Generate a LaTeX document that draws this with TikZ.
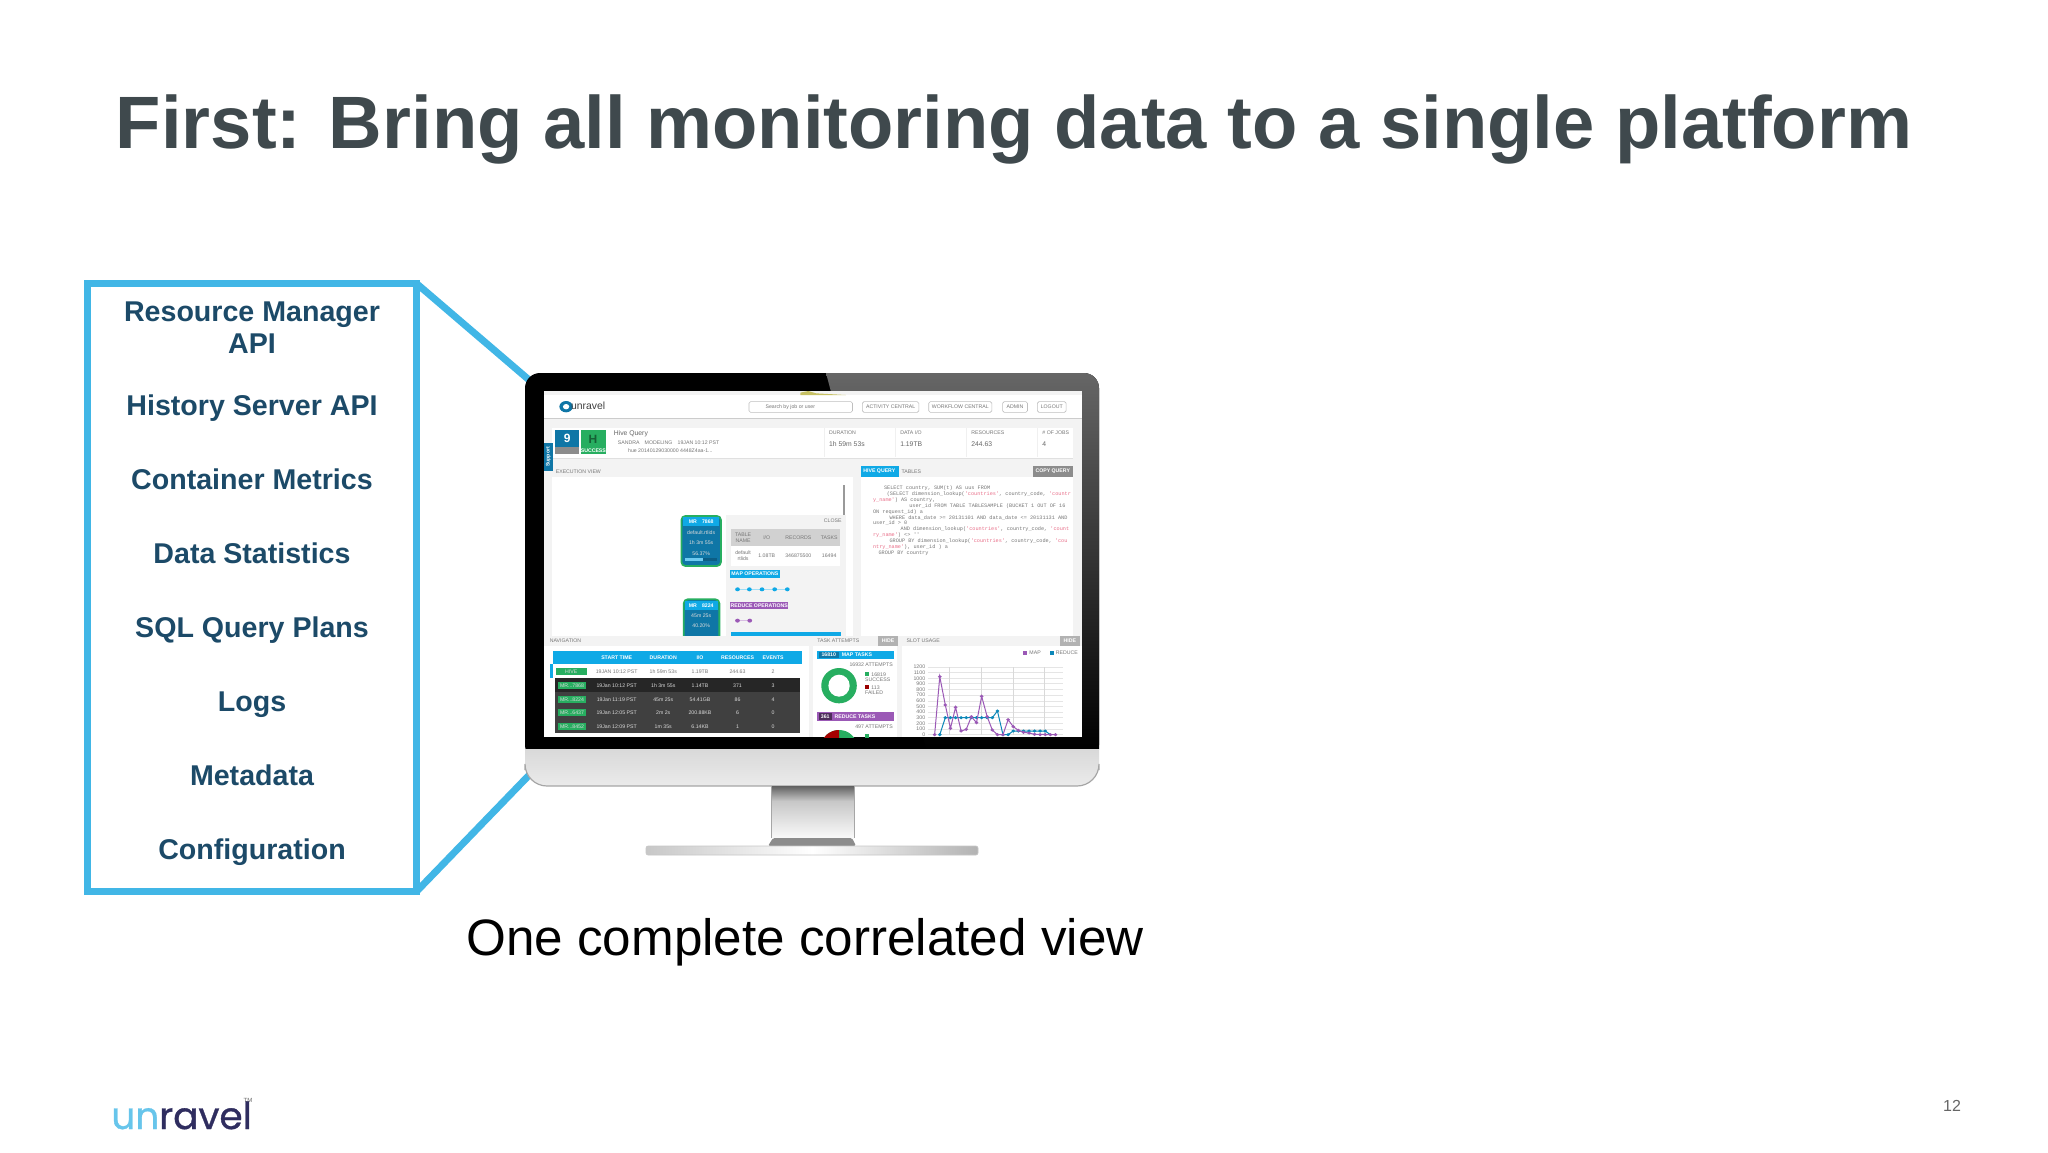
\documentclass[tikz,border=0pt]{standalone}
\usepackage{fontspec}
\setmainfont{Liberation Sans}
\setmonofont{Liberation Mono}
\newfontfamily\logofont[FakeBold=0.9]{Poppins}
\definecolor{calloutblue}{HTML}{41B6E6}
\definecolor{titlegray}{HTML}{3F494D}
\definecolor{paneltext}{HTML}{1C4A68}
\definecolor{logonavy}{HTML}{2F2D5F}
\definecolor{scrblue}{HTML}{0FA9E6}
\definecolor{scrdeep}{HTML}{0F76A6}
\definecolor{scrgreen}{HTML}{27AE60}
\definecolor{scrpurple}{HTML}{9B59B6}
\definecolor{scrgray}{HTML}{F3F3F3}
\definecolor{scrtext}{HTML}{777777}
\definecolor{qred}{HTML}{E9708A}
\tikzset{
  panellabel/.style={font=\fontsize{14.3}{15}\selectfont\bfseries,text=paneltext,inner sep=0},
  tiny/.style={font=\fontsize{2.6}{3}\selectfont,text=scrtext,inner sep=0},
  tinyw/.style={font=\fontsize{2.6}{3}\selectfont\bfseries,text=white,inner sep=0},
  rowtxt/.style={font=\fontsize{2.6}{3}\selectfont,text=white!85!black,inner sep=0},
  headbtn/.style={draw=black!25,fill=white,rounded corners=0.8pt,line width=0.3pt},
  codeline/.style={font=\fontsize{2.6}{3}\ttfamily\selectfont,text=scrtext,inner sep=0,anchor=west},
}
\newcommand{\qs}[1]{\textcolor{qred}{#1}}
\begin{document}
\begin{tikzpicture}[x=0.5pt,y=-0.5pt]
  \fill[white] (0,0) rectangle (2048,1152);
  \useasboundingbox (0,0) rectangle (2048,1152);
  %% Title
  \node[font=\fontsize{37.1}{40}\selectfont\bfseries,text=titlegray,inner sep=0] (title) at (1014,129.5) {First: Bring all monitoring data to a single platform};
  %% Panel
  \node[draw=calloutblue,line width=3.5pt,outer sep=0,minimum width=164.5pt,minimum height=304pt] (panel) at (252,587.5) {};
  \node[panellabel,align=center] (lab0) at (252,328) {Resource Manager\\[1pt]API};
  \foreach \y/\t [count=\i] in {415/History Server API,489/Container Metrics,563/Data Statistics,637/SQL Query Plans,711/Logs,785/Metadata,859/Configuration}
    \node[panellabel,anchor=base] (lab\i) at (252,\y) {\t};
  %% Callout
  \coordinate (montop) at (535,385);
  \coordinate (monbot) at (535,769);
  \draw[calloutblue,line width=3.5pt] (panel.north east) -- (montop);
  \draw[calloutblue,line width=3.5pt] (panel.south east) -- (monbot);
  %% Monitor
  \fill[black,rounded corners=7.5pt] (525,760) -- (525,373) -- (1099,373) -- (1099,760) -- cycle;
  \shade[top color=black!60,bottom color=black] (826,373) [rounded corners=7.5pt] -- (1099,373) [sharp corners] -- (1099,749) -- (926,749) -- cycle;
  \shade[top color=black!15,bottom color=black!8] (525,749) [rounded corners=11pt] -- (525,786) -- (1099,786) [sharp corners] -- (1099,749) -- cycle;
  \draw[black!35,line width=0.6pt] (525,770) [rounded corners=11pt] -- (525,786) -- (1099,786) [sharp corners] -- (1099,770);
  \shade[top color=black!62,bottom color=black!22] (771,786) rectangle (854,801);
  \shade[top color=black!22,bottom color=black!2] (771,801) rectangle (854,838);
  \draw[black!35,line width=0.3pt] (771,786) -- (771,838) (854,786) -- (854,838);
  \fill[black!45,rounded corners=0.8pt] (773,838) -- (852,838) -- (856,846) -- (768,846) -- cycle;
  \shade[left color=black!22,right color=black!30,middle color=white,rounded corners=1pt] (646,846) rectangle (978,855);
  \draw[black!22,line width=0.3pt,rounded corners=1pt] (646,846) rectangle (978,855);
  %% Screen
  \fill[scrgray] (544,391) rectangle (1082,737);
  \begin{scope}
    \clip (544,391) rectangle (1082,737);
    \begin{scope}[shift={(510,360)},xscale=0.395,yscale=0.3333]
      %% Header
      \fill[white] (86,105) rectangle (1447,175);
      \fill[black!20] (86,174) rectangle (1447,177);
      \fill[olive!50] (735,98) -- (755,93) -- (775,100) -- (850,105) -- (735,105) -- cycle;
      \fill[scrdeep] (142,140) circle (17);
      \fill[white] (142,140) circle (8);
      \node[font=\fontsize{5.2}{6}\selectfont,text=black!75,inner sep=0] (scrlogo) at (198,138) {unravel};
      \draw[headbtn] (605,125) rectangle (867,157);
      \node[tiny,anchor=west] (srch) at (646,140) {Search by job or user};
      \foreach \a/\b/\t [count=\i] in {892/1035/ACTIVITY CENTRAL,1060/1220/WORKFLOW CENTRAL,1247/1310/ADMIN,1335/1408/LOGOUT}{
        \draw[headbtn] (\a,125) rectangle (\b,157);
        \node[tiny] (btn\i) at ({(\a+\b)/2},141) {\t};
      }
      %% Summary
      \fill[white] (106,203) rectangle (1424,293);
      \fill[black!12] (106,293) rectangle (1424,297);
      \fill[scrdeep] (115,210) rectangle (175,283);
      \fill[black!45] (115,262) rectangle (175,283);
      \fill[scrgreen] (180,210) rectangle (242,283);
      \node[font=\fontsize{6}{6}\selectfont\bfseries,text=white] (sumn) at (145,236) {9};
      \node[font=\fontsize{6}{6}\selectfont\bfseries,text=black!45!scrgreen] (sumh) at (210,238) {H};
      \node[tinyw] (sums) at (211,271) {SUCCESS};
      \node[font=\fontsize{3.4}{4}\selectfont,text=black!60,anchor=west,inner sep=0] (qname) at (262,221) {Hive Query};
      \node[tiny,anchor=west] (quser) at (272,248) {SANDRA\quad MODELING\quad 19JAN 10:12 PST};
      \node[tiny,anchor=west] (qhue) at (298,273) {hue 20140129030000 4448Z4aa-1...};
      \foreach \x/\a/\b [count=\i] in {807/DURATION/1h 59m 53s,987/{DATA I/O}/1.19TB,1167/RESOURCES/244.63,1347/\# OF JOBS/4}{
        \node[tiny,anchor=west] (sumh\i) at (\x,217) {\a};
        \node[font=\fontsize{3.4}{4}\selectfont,text=black!60,anchor=west,inner sep=0] (sumv\i) at (\x,251) {\b};
        \fill[black!6] ({\x-12},205) rectangle ({\x-10},292);
      }
      \fill[scrdeep] (86,250) rectangle (108,332);
      \node[tinyw,rotate=90] (support) at (97,291) {Support};
      %% Execution view
      \node[tiny,anchor=west] (execlab) at (115,334) {EXECUTION VIEW};
      \fill[white] (106,350) rectangle (868,830);
      \fill[black!40] (843,375) rectangle (847,465);
      \fill[scrgray] (547,464) rectangle (850,830);
      \node[tiny] (closelab) at (817,483) {CLOSE};
      \fill[black!18] (560,506) rectangle (836,558);
      \fill[white] (560,558) rectangle (836,618);
      \node[tiny,align=center] (tabname) at (590,532) {TABLE\\NAME};
      \node[tiny,align=center] (rowname) at (590,588) {default\\rtlids};
      \foreach \x/\a/\b [count=\i] in {650/{I/O}/1.08TB,730/RECORDS/346875500,808/TASKS/16494}{
        \node[tiny] (colh\i) at (\x,532) {\a};
        \node[tiny] (colv\i) at (\x,588) {\b};
      }
      \fill[scrblue] (558,631) rectangle (683,654);
      \node[tinyw] (mapop) at (620,642) {MAP OPERATIONS};
      \draw[scrblue!40,line width=0.2pt] (576,688) -- (702,688);
      \foreach \x in {576,606,638,670,702} \fill[scrblue] (\x,688) circle (6);
      \fill[scrpurple] (558,725) rectangle (705,748);
      \node[tinyw] (redop) at (631,736) {REDUCE OPERATIONS};
      \draw[scrpurple!40,line width=0.2pt] (576,782) -- (607,782);
      \foreach \x in {576,607} \fill[scrpurple] (\x,782) circle (6);
      \fill[scrblue] (559,817) rectangle (837,830);
      %% MR nodes
      \fill[scrdeep,draw=scrgreen,line width=0.9pt,rounded corners=2pt] (434,468) rectangle (534,618);
      \fill[scrblue] (438,472) rectangle (530,498);
      \fill[scrblue!60] (444,594) rectangle (488,604);
      \fill[black!20!scrdeep] (488,594) rectangle (524,604);
      \node[tinyw] (mra) at (484,486) {MR\quad 7868};
      \foreach \y/\t [count=\i] in {517/default.rtlids,549/1h 3m 55s,580/56.37\%}
        \node[rowtxt] (mrat\i) at (484,\y) {\t};
      \fill[scrdeep,draw=scrgreen,line width=0.9pt,rounded corners=2pt] (440,718) rectangle (530,850);
      \fill[scrblue] (444,724) rectangle (526,750);
      \node[tinyw] (mrb) at (484,737) {MR\quad 8224};
      \node[rowtxt] (mrbt) at (484,768) {45m 25s};
      \node[rowtxt] (mrbp) at (484,798) {40.20\%};
      %% Query
      \fill[white] (888,350) rectangle (1424,830);
      \fill[scrblue] (888,319) rectangle (984,350);
      \node[tinyw] (hivetab) at (935,334) {HIVE QUERY};
      \node[tiny] (tabletab) at (1016,334) {TABLES};
      \fill[black!45] (1325,319) rectangle (1424,350);
      \node[tinyw] (copytab) at (1374,334) {COPY QUERY};
      \foreach \x/\y/\t [count=\i] in {
        946/383/{SELECT country, SUM(t) AS uus FROM},
        953/401/{(SELECT dimension\_lookup(\qs{'countries'}, country\_code, \qs{'countr}},
        918/419/{\qs{y\_name'}) AS country,},
        1010/437/{user\_id FROM TABLE TABLESAMPLE (BUCKET 1 OUT OF 16},
        918/455/{ON request\_id) a},
        960/473/{WHERE data\_date >= 20131101 AND data\_date <= 20131131 AND},
        918/490/{user\_id > 0},
        988/508/{AND dimension\_lookup(\qs{'countries'}, country\_code, \qs{'count}},
        918/526/{\qs{ry\_name'}) <> ''},
        960/544/{GROUP BY dimension\_lookup(\qs{'countries'}, country\_code, \qs{'cou}},
        918/562/{\qs{ntry\_name'}), user\_id ) a},
        932/580/{GROUP BY country}}
        \node[codeline] (code\i) at (\x,\y) {\t};
    \end{scope}
    \begin{scope}[shift={(510,620)},xscale=0.395,yscale=0.3333]
      %% Lower band
      \fill[white] (86,47) rectangle (1447,350);
      \fill[scrgray] (86,47) rectangle (1447,77);
      \fill[scrgray] (756,77) rectangle (766,350);
      \fill[scrgray] (980,77) rectangle (992,350);
      \node[tiny,anchor=west] (navlab) at (100,62) {NAVIGATION};
      \node[tiny,anchor=west] (tasklab) at (777,62) {TASK ATTEMPTS};
      \node[tiny,anchor=west] (slotlab) at (1003,62) {SLOT USAGE};
      \foreach \a/\b [count=\i] in {931/983,1392/1443}{
        \fill[black!30] (\a,47) rectangle (\b,77);
        \node[tinyw] (hide\i) at ({(\a+\b)/2},62) {HIDE};
      }
      %% Navigation table
      \fill[scrblue] (108,92) rectangle (740,132);
      \foreach \x/\t [count=\i] in {270/START TIME,388/DURATION,481/{I/O},576/RESOURCES,666/EVENTS}
        \node[tinyw] (navh\i) at (\x,112) {\t};
      \fill[scrblue] (100,132) rectangle (108,174);
      \fill[scrgreen] (116,144) rectangle (194,164);
      \node[rowtxt] (hivetag) at (155,154) {HIVE};
      \foreach \x/\t [count=\i] in {270/19JAN 10:12 PST,388/1h 59m 53s,481/1.19TB,576/244.63,666/2}
        \node[tiny] (navr\i) at (\x,154) {\t};
      \fill[black!75] (114,175) rectangle (734,339);
      \fill[black!85] (114,175) rectangle (734,217);
      \foreach \y/\m/\s/\d/\v/\r/\e [count=\i] in {
        197/7868/19Jan 10:12 PST/1h 3m 55s/1.14TB/371/3,
        238/8224/19Jan 11:19 PST/45m 25s/54.41GB/86/4,
        278/6437/19Jan 12:05 PST/2m 2s/200.88KB/6/0,
        319/8452/19Jan 12:09 PST/1m 35s/6.14KB/1/0}{
        \fill[scrgreen] (122,\y-10) rectangle (192,\y+10);
        \node[rowtxt] (mrtag\i) at (157,\y) {MR...\m};
        \node[rowtxt] (mrs\i) at (270,\y) {\s};
        \node[rowtxt] (mrd\i) at (388,\y) {\d};
        \node[rowtxt] (mrio\i) at (481,\y) {\v};
        \node[rowtxt] (mrr\i) at (576,\y) {\r};
        \node[rowtxt] (mre\i) at (666,\y) {\e};
      }
      %% Task attempts
      \fill[scrblue] (777,92) rectangle (972,117);
      \fill[scrdeep] (782,95) rectangle (832,114);
      \node[tinyw] (mapn) at (807,105) {16810};
      \node[tinyw,anchor=west] (mapt) at (839,105) {MAP TASKS};
      \node[tiny,anchor=east] (mapa) at (970,134) {16932 ATTEMPTS};
      \fill[scrgreen] (833,197) circle [x radius=45,y radius=53];
      \fill[white] (833,197) circle [x radius=27,y radius=33];
      \fill[scrgreen] (898,157) rectangle (908,168);
      \fill[red!60!black] (898,196) rectangle (908,207);
      \node[tiny,anchor=west] (maps) at (914,163) {16819};
      \node[tiny,anchor=west] (maps2) at (898,180) {SUCCESS};
      \node[tiny,anchor=west] (mapf) at (914,202) {113};
      \node[tiny,anchor=west] (mapf2) at (898,219) {FAILED};
      \fill[scrpurple] (777,277) rectangle (972,303);
      \fill[black!50!scrpurple] (782,280) rectangle (815,301);
      \node[tinyw] (redn) at (798,291) {361};
      \node[tinyw,anchor=west] (redt) at (821,291) {REDUCE TASKS};
      \node[tiny,anchor=east] (reda) at (970,320) {497 ATTEMPTS};
      \fill[scrgreen] (833,380) circle [x radius=45,y radius=50];
      \fill[red!65!black] (833,380) -- (833,330) arc[start angle=270,end angle=180,x radius=45,y radius=50] -- cycle;
      \fill[scrgreen] (898,342) rectangle (908,353);
      %% Slot usage
      \fill[scrpurple] (1298,92) rectangle (1310,104);
      \node[tiny,anchor=west] (slotm) at (1314,98) {MAP};
      \fill[scrblue!80!black] (1367,92) rectangle (1378,104);
      \node[tiny,anchor=west] (slotr) at (1381,98) {REDUCE};
      \foreach \y/\t [count=\i] in {141/1200,158/1100,175/1000,191/900,208/800,225/700,243/600,260/500,276/400,293/300,310/200,327/100,344/0}{
        \node[tiny,anchor=east] (yt\i) at (1052,\y) {\t};
        \draw[black!10,line width=0.2pt] (1058,\y) -- (1400,\y);
      }
      \foreach \x in {1113,1193,1273,1353} \draw[black!15,line width=0.2pt] (\x,141) -- (\x,344);
      \draw[scrblue!80!black,line width=0.5pt] (1088,344) -- (1102,293) -- (1221,293) -- (1234,273) -- (1248,344) -- (1261,344) -- (1274,333) -- (1355,333) -- (1368,344);
      \foreach \x/\y in {1088/344,1102/293,1115/293,1128/293,1142/293,1155/293,1168/293,1181/293,1194/293,1208/293,1221/293,1234/273,1248/344,1261/344,1274/333,1287/333,1300/333,1314/333,1328/333,1342/333,1355/333}
        \fill[scrblue!80!black] (\x,\y) circle (5);
      \draw[scrpurple,line width=0.5pt] (1075,344) -- (1088,170) -- (1102,255) -- (1115,325) -- (1128,262) -- (1142,333) -- (1155,328) -- (1168,290) -- (1181,308) -- (1194,229) -- (1208,290) -- (1221,330) -- (1234,344) -- (1248,344) -- (1261,299) -- (1274,320) -- (1287,331) -- (1300,337) -- (1314,339) -- (1328,343) -- (1381,344);
      \foreach \x/\y in {1075/344,1088/170,1102/255,1115/325,1128/262,1142/333,1155/328,1168/290,1181/308,1194/229,1208/290,1221/330,1234/344,1248/344,1261/299,1274/320,1287/331,1300/337,1314/339,1328/343,1342/344,1355/344,1368/344,1381/344}
        \fill[scrpurple] (\x,\y) circle (5);
    \end{scope}
  \end{scope}
  %% Caption
  \node[font=\fontsize{25.6}{30}\selectfont,text=black,inner sep=0] (caption) at (805,942) {One complete correlated view};
  %% Footer
  \node[font=\fontsize{18.7}{24}\logofont\selectfont,inner sep=0,anchor=base west] (logo) at (111,1129) {\textcolor{calloutblue!80}{un}\textcolor{logonavy}{ravel}};
  \node[font=\fontsize{3}{3}\selectfont,text=black!60,inner sep=0] (logotm) at (248,1100) {TM};
  \node[font=\fontsize{8}{10}\selectfont,text=black!60,inner sep=0] (pagenum) at (1952,1106) {12};
\end{tikzpicture}
\end{document}
